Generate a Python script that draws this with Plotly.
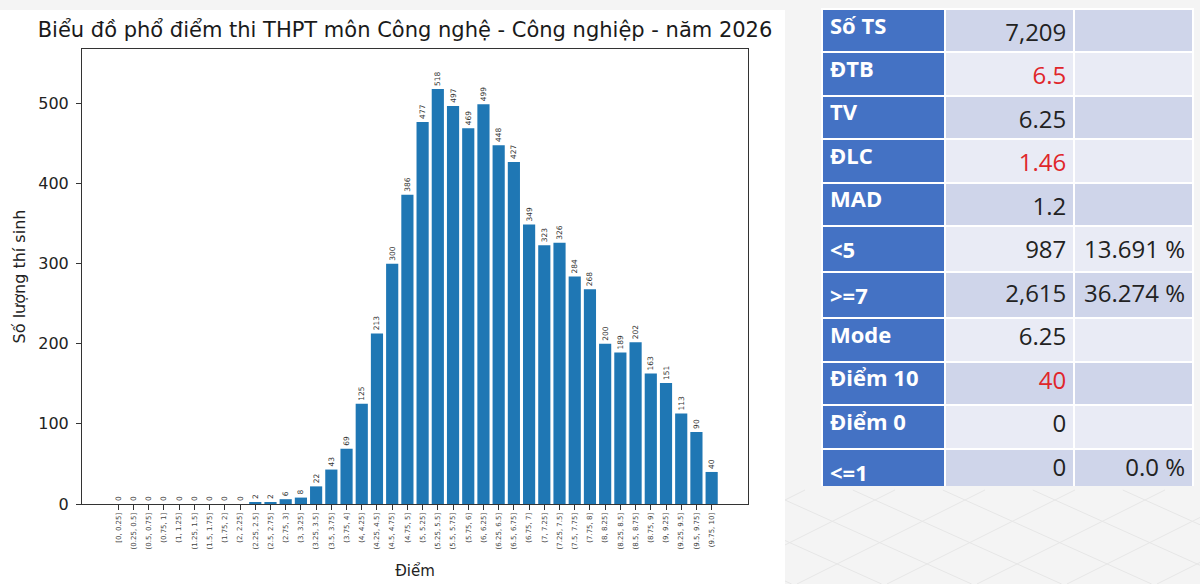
import plotly.graph_objects as go

# ---------------- data ----------------
bin_labels = [
    "[0, 0.25]", "(0.25, 0.5]", "(0.5, 0.75]", "(0.75, 1]", "(1, 1.25]", "(1.25, 1.5]",
    "(1.5, 1.75]", "(1.75, 2]", "(2, 2.25]", "(2.25, 2.5]", "(2.5, 2.75]", "(2.75, 3]",
    "(3, 3.25]", "(3.25, 3.5]", "(3.5, 3.75]", "(3.75, 4]", "(4, 4.25]", "(4.25, 4.5]",
    "(4.5, 4.75]", "(4.75, 5]", "(5, 5.25]", "(5.25, 5.5]", "(5.5, 5.75]", "(5.75, 6]",
    "(6, 6.25]", "(6.25, 6.5]", "(6.5, 6.75]", "(6.75, 7]", "(7, 7.25]", "(7.25, 7.5]",
    "(7.5, 7.75]", "(7.75, 8]", "(8, 8.25]", "(8.25, 8.5]", "(8.5, 8.75]", "(8.75, 9]",
    "(9, 9.25]", "(9.25, 9.5]", "(9.5, 9.75]", "(9.75, 10]",
]
counts = [
    0, 0, 0, 0, 0, 0, 0, 0, 0, 2, 2, 6, 8, 22, 43, 69, 125, 213, 300, 386,
    477, 518, 497, 469, 499, 448, 427, 349, 323, 326, 284, 268, 200, 189, 202, 163,
    151, 113, 90, 40,
]
y_ticks = [0, 100, 200, 300, 400, 500]

table_labels = ["Số TS", "ĐTB", "TV", "ĐLC", "MAD", "<5", ">=7", "Mode", "Điểm 10", "Điểm 0", "<=1"]
table_values = ["7,209", "6.5", "6.25", "1.46", "1.2", "987", "2,615", "6.25", "40", "0", "0"]
table_pcts = ["", "", "", "", "", "13.691\u00a0%", "36.274\u00a0%", "", "", "", "0.0\u00a0%"]
highlight_rows = [1, 3, 8]  # values shown in red

title_text = "Biểu đồ phổ điểm thi THPT môn Công nghệ - Công nghiệp - năm 2026"

# ---------------- styling ----------------
W, H = 1200, 584
AX_L, AX_R, AX_T, AX_B = 82, 748, 49, 504
TB_L, TB_R, TB_T, TB_B = 822, 1194, 9, 487
VAL_SHIFT = 6  # value text sits lower in its cell than the row label
BAR = "#1f77b4"
HEAD = "#4472C4"
DARK = "#CFD5EA"
LIGHT = "#E9EBF5"
RED = "#e0262a"
TXT = "#222222"
CLEAR = "rgba(0,0,0,0)"
ROW_H = (TB_B - TB_T) / 11

idx = list(range(len(counts)))

fig = go.Figure()
fig.add_trace(go.Bar(
    x=idx, y=counts, width=0.8,
    marker=dict(color=BAR, line=dict(width=0)),
    text=counts, texttemplate="%{y}", textposition="outside", textangle=-90,
    textfont=dict(family="DejaVu Sans", size=7.5, color="#333333"),
    cliponaxis=False, constraintext="none", showlegend=False,
    hoverinfo="x+y",
))

# table: fills + row labels
n = len(table_labels)
row_fill = [DARK if i % 2 == 0 else LIGHT for i in range(n)]
val_colors = [RED if i in highlight_rows else TXT for i in range(n)]
blank = [""] * n
fig.add_trace(go.Table(
    domain=dict(x=[TB_L / W, TB_R / W], y=[1 - TB_B / H, 1 - TB_T / H]),
    columnwidth=[123, 130, 119],
    header=dict(
        values=[table_labels[0], blank[0], blank[0]],
        fill_color=[HEAD, row_fill[0], row_fill[0]],
        line=dict(color="white", width=2),
        align="left",
        font=dict(family="Open Sans", size=22, color="white", weight=700),
        height=ROW_H,
    ),
    cells=dict(
        values=[table_labels[1:], blank[1:], blank[1:]],
        fill_color=[[HEAD] * (n - 1), row_fill[1:], row_fill[1:]],
        line=dict(color="white", width=2),
        align="left",
        font=dict(family="Open Sans", size=22, color="white", weight=700),
        height=ROW_H,
    ),
))
# table: values and percentages (transparent layer, text slightly lower)
fig.add_trace(go.Table(
    domain=dict(x=[TB_L / W, TB_R / W], y=[1 - (TB_B + VAL_SHIFT) / H, 1 - (TB_T + VAL_SHIFT) / H]),
    columnwidth=[123, 130, 119],
    header=dict(
        values=["", table_values[0], table_pcts[0]],
        fill_color=CLEAR, line=dict(color=CLEAR, width=0),
        align="right",
        font=dict(family="Open Sans", size=24, color=[TXT, val_colors[0], TXT]),
        height=ROW_H,
    ),
    cells=dict(
        values=[blank[1:], table_values[1:], table_pcts[1:]],
        fill_color=CLEAR, line=dict(color=CLEAR, width=0),
        align="right",
        font=dict(family="Open Sans", size=24,
                  color=[[TXT] * (n - 1), val_colors[1:], [TXT] * (n - 1)]),
        height=ROW_H,
    ),
))


# faint perspective floor pattern of the slide background (decoration only)
def clipped_line(x0, y0, slope, box):
    bx0, by0, bx1, by1 = box
    pts = []
    for xb in (bx0, bx1):
        yb = y0 + slope * (xb - x0)
        if by0 <= yb <= by1:
            pts.append((xb, yb))
    for yb in (by0, by1):
        xb = x0 + (yb - y0) / slope
        if bx0 < xb < bx1:
            pts.append((xb, yb))
    if len(pts) < 2:
        return None
    (ax, ay), (bx, by) = pts[0], pts[1]
    return dict(type="line", xref="paper", yref="paper",
                x0=ax / W, x1=bx / W, y0=1 - ay / H, y1=1 - by / H,
                line=dict(color="#e6e6e6", width=1), layer="below")


floor_box = (785, 490, 1200, 584)
deco = []
for k in range(-6, 10):
    for slope in (0.45, -0.5):
        shp = clipped_line(785 + 90 * k, 500, slope, floor_box)
        if shp:
            deco.append(shp)

fig.update_layout(
    width=W, height=H, autosize=False,
    margin=dict(l=0, r=0, t=0, b=0, autoexpand=False),
    paper_bgcolor="#f4f4f4",
    plot_bgcolor="white",
    font=dict(family="DejaVu Sans", color="#222222"),
    title=dict(text=title_text, x=405 / W, xanchor="center", y=1 - 30 / H, yanchor="middle",
               font=dict(family="DejaVu Sans", size=21, color="#1a1a1a")),
    bargap=0.2,
    shapes=[dict(type="rect", xref="paper", yref="paper",
                 x0=0, x1=785 / W, y0=0, y1=1 - 10 / H,
                 fillcolor="white", line=dict(width=0), layer="below")] + deco,
)
fig.update_xaxes(
    domain=[AX_L / W, AX_R / W],
    range=[-2.39, 41.39], tickmode="array", tickvals=idx, ticktext=bin_labels,
    tickangle=-90, tickfont=dict(size=7, color="#444444"),
    ticks="outside", ticklen=5, tickcolor="#333333",
    showline=True, linecolor="#333333", linewidth=1, mirror=True,
    showgrid=False, zeroline=False, automargin=False,
    title=dict(text="Điểm", font=dict(size=15), standoff=17),
)
fig.update_yaxes(
    domain=[1 - AX_B / H, 1 - AX_T / H],
    range=[0, 568], tickmode="array", tickvals=y_ticks,
    tickfont=dict(size=16, color="#222222"),
    ticks="outside", ticklen=5, tickcolor="#333333", ticklabelstandoff=4,
    showline=True, linecolor="#333333", linewidth=1, mirror=True,
    showgrid=False, zeroline=False, automargin=False,
    title=dict(text="Số lượng thí sinh", font=dict(size=16), standoff=8),
)

fig.write_html("out.html")
